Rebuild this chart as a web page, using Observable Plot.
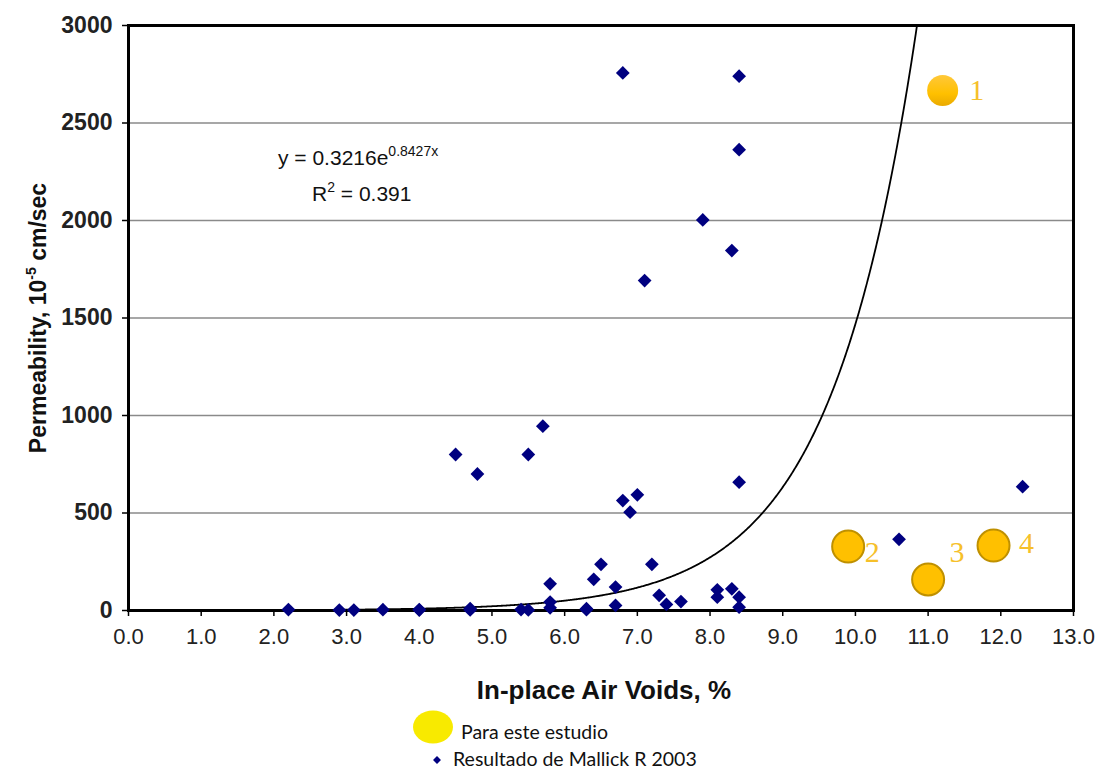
<!DOCTYPE html>
<html>
<head>
<meta charset="utf-8">
<script src="https://cdn.jsdelivr.net/npm/d3@7"></script>
<script src="https://cdn.jsdelivr.net/npm/@observablehq/plot@0.6"></script>
<style>
  body { margin: 0; background: #fff; }
  #chart { position: relative; width: 1099px; }
  #legend { position: relative; width: 1099px; height: 67px; }
</style>
</head>
<body>
<div id="chart"></div>
<div id="legend"></div>
<script>
// ---- Data ----
const mallickVoids = [6.8, 8.4, 8.4, 7.9, 8.3, 7.1, 5.7, 4.5, 5.5, 4.8, 8.4, 12.3, 7.0, 6.8, 6.9, 10.6,
  6.5, 7.2, 5.8, 6.4, 6.7, 8.1, 8.3, 8.1, 8.4, 7.3, 7.4, 7.6, 8.4, 6.7, 5.8, 5.8, 6.3, 6.3,
  5.4, 5.5, 4.7, 4.7, 4.0, 4.0, 3.5, 3.1, 2.9, 2.2];
const mallickPerm = [2757, 2740, 2363, 2003, 1846, 1692, 945, 800, 800, 700, 658, 635, 593, 564, 504, 365,
  237, 237, 137, 160, 120, 106, 111, 68, 68, 78, 31, 46, 17, 26, 43, 14, 9, 4,
  5, 3, 10, 3, 5, 2, 4, 2, 2, 5];
const studyVoids = [11.2, 9.9, 11.0, 11.9];
const studyPerm = [2667, 328, 159, 333];
const studyLabels = ["1", "2", "3", "4"];
const xTicks = [0,1,2,3,4,5,6,7,8,9,10,11,12,13];
const yTicks = [0, 500, 1000, 1500, 2000, 2500, 3000];
// Exponential trendline y = a·e^(b·x) as printed on the chart
const trendA = 0.3216, trendB = 0.8427;
const trendXmin = 2.2, trendXmax = 12.3;

const mallick = mallickVoids.map((v, i) => ({x: v, y: mallickPerm[i]}));
const study = studyVoids.map((v, i) => ({x: v, y: studyPerm[i], label: studyLabels[i]}));
const trend = d3.range(trendXmin, trendXmax, 0.01).map(x => ({x, y: trendA * Math.exp(trendB * x)}))
  .filter(d => d.y <= 3050);

// label offsets (style)
const labelOffsets = [[34, 0], [24, 6], [29, -27], [33, -2]];

const font = "'Liberation Sans', Arial, sans-serif";
const plot = Plot.plot({
  width: 1099,
  height: 705,
  marginLeft: 128,
  marginRight: 26,
  marginTop: 25,
  marginBottom: 95,
  style: {fontFamily: font, background: "#fff", overflow: "visible"},
  x: {domain: [0, 13]},
  y: {domain: [0, 3000]},
  marks: [
    Plot.gridY({ticks: yTicks.slice(1, -1), stroke: "#8a8a8a", strokeOpacity: 1, strokeWidth: 1.6}),
    Plot.axisY({ticks: yTicks, tickSize: 6, tickPadding: 10, fontSize: 23, fontWeight: "bold",
      fill: "#222", stroke: "#000", strokeWidth: 1.5, label: null, tickFormat: d => String(d)}),
    Plot.axisX({ticks: xTicks, tickSize: 6, tickPadding: 12, fontSize: 22,
      fill: "#222", stroke: "#000", strokeWidth: 1.5, label: null, tickFormat: d => d.toFixed(1)}),
    Plot.line(trend, {x: "x", y: "y", stroke: "#000", strokeWidth: 1.8, clip: true}),
    Plot.frame({stroke: "#000", strokeWidth: 3}),
    Plot.dot(mallick, {x: "x", y: "y", symbol: "diamond2", r: 6.2, fill: "#000080", stroke: null}),
    Plot.dot(study.slice(1), {x: "x", y: "y", r: 16, fill: "#ffc000", stroke: "#bf9000", strokeWidth: 2}),
    Plot.dot(study.slice(0, 1), {x: "x", y: "y", r: 15.5, fill: "url(#goldGrad)", stroke: null}),
    ...study.map((d, i) => Plot.text([d], {x: "x", y: "y", text: "label",
      dx: labelOffsets[i][0], dy: labelOffsets[i][1],
      fontFamily: "'Liberation Serif', 'DejaVu Serif', serif", fontSize: 30,
      fill: "#f6c02a", textAnchor: "middle"}))
  ]
});

const svg = d3.select(plot);
const defs = svg.insert("defs", ":first-child");
const g = defs.append("linearGradient").attr("id", "goldGrad").attr("x1", 0).attr("y1", 0).attr("x2", 0).attr("y2", 1);
g.append("stop").attr("offset", "0%").attr("stop-color", "#ffc83a");
g.append("stop").attr("offset", "60%").attr("stop-color", "#ffc000");
g.append("stop").attr("offset", "100%").attr("stop-color", "#eaaa00");

// Axis titles
const yl = svg.append("text")
  .attr("transform", "translate(46,318) rotate(-90)")
  .attr("text-anchor", "middle")
  .attr("font-family", font).attr("font-size", 23).attr("font-weight", "bold").attr("fill", "#111");
yl.append("tspan").text("Permeability, 10");
yl.append("tspan").attr("dy", -10).attr("font-size", 14).text("-5");
yl.append("tspan").attr("dy", 10).text(" cm/sec");

svg.append("text")
  .attr("x", 604).attr("y", 699)
  .attr("text-anchor", "middle")
  .attr("font-family", font).attr("font-size", 26).attr("font-weight", "bold").attr("fill", "#111")
  .text("In-place Air Voids, %");

// Equation annotation
const eq = svg.append("text").attr("x", 278).attr("y", 165).attr("text-anchor", "start")
  .attr("font-family", font).attr("font-size", 21).attr("fill", "#111");
eq.append("tspan").text("y = " + trendA + "e");
eq.append("tspan").attr("dy", -9).attr("font-size", 14).text(trendB + "x");
const r2 = svg.append("text").attr("x", 312).attr("y", 201).attr("text-anchor", "start")
  .attr("font-family", font).attr("font-size", 21).attr("fill", "#111");
r2.append("tspan").text("R");
r2.append("tspan").attr("dy", -9).attr("font-size", 14).text("2");
r2.append("tspan").attr("dy", 9).text(" = 0.391");

document.getElementById("chart").appendChild(plot);

// Legend
const legFont = "Lato, 'Open Sans', 'Liberation Sans', sans-serif";
const ls = d3.select("#legend").append("svg").attr("width", 1099).attr("height", 67)
  .style("position", "absolute").style("left", 0).style("top", 0);
ls.append("ellipse").attr("cx", 433).attr("cy", 22).attr("rx", 20).attr("ry", 16.5).attr("fill", "#f8ea00");
ls.append("text").attr("x", 461).attr("y", 34).attr("font-family", legFont)
  .attr("font-size", 19.5).attr("fill", "#111").text("Para este estudio");
ls.append("path").attr("d", d3.symbol(d3.symbolDiamond2, 40)()).attr("transform", "translate(437,55)").attr("fill", "#000080");
ls.append("text").attr("x", 453).attr("y", 61).attr("font-family", legFont)
  .attr("font-size", 19.5).attr("fill", "#111").text("Resultado de Mallick R 2003");
</script>
</body>
</html>
